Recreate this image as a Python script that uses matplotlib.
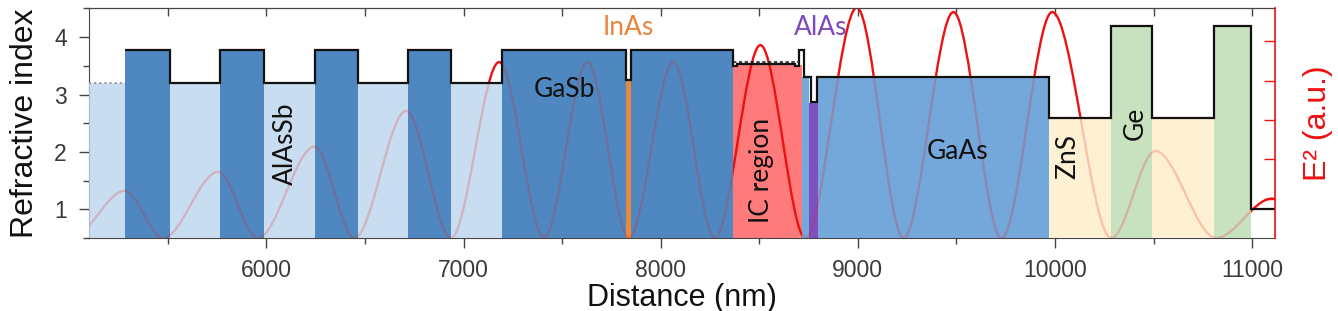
# Törésmutató-profil és E² térerősség a rétegszerkezetben.

import matplotlib
matplotlib.use('Agg')
import matplotlib.pyplot as plt
from matplotlib.path import Path
from matplotlib.patches import PathPatch
from matplotlib.ticker import MultipleLocator

# rétegek (kitöltés)
layer_start = [5100, 5282, 5510, 5763, 5988, 6244, 6464, 6717, 6934, 7195, 7825, 7847,
               8366, 8717, 8750, 8800, 9970, 10286, 10492, 10805]
layer_end = [5282, 5510, 5763, 5988, 6244, 6464, 6717, 6934, 7195, 7825, 7847, 8366,
             8717, 8750, 8800, 9970, 10286, 10492, 10805, 10995]
layer_n = [3.2, 3.78, 3.2, 3.78, 3.2, 3.78, 3.2, 3.78, 3.2, 3.78, 3.25, 3.78,
           3.52, 3.3, 2.85, 3.3, 2.6, 4.19, 2.6, 4.19]
layer_mat = ['AlAsSb', 'GaSb', 'AlAsSb', 'GaSb', 'AlAsSb', 'GaSb', 'AlAsSb', 'GaSb',
             'AlAsSb', 'GaSb', 'InAs', 'GaSb', 'IC', 'GaAs', 'AlAs', 'GaAs',
             'ZnS', 'Ge', 'ZnS', 'Ge']

# törésmutató lépcsős profil
profile_edges = [5282, 5510, 5763, 5988, 6244, 6464, 6717, 6934, 7195, 7825, 7847, 8366,
                 8385, 8680, 8700, 8725, 8762, 8793, 9970, 10286, 10492, 10805, 10995, 11116]
profile_n = [3.78, 3.2, 3.78, 3.2, 3.78, 3.2, 3.78, 3.2, 3.78, 3.25, 3.78, 3.49,
             3.53, 3.49, 3.78, 3.3, 2.87, 3.3, 2.6, 4.19, 2.6, 4.19, 1.0]

# E² lebenyek: nullhelyek, csúcsok helye és magassága
field_zeros = [5010, 5476, 5957, 6447, 6936, 7409, 7839, 8275, 8734, 9232, 9729,
               10286, 10818, 11400]
peak_x = [5282, 5755, 6244, 6709, 7181, 7628, 8064, 8506, 8995, 9485, 9986, 10509, 11100]
peak_h = [1.2, 1.68, 2.32, 3.23, 4.47, 4.47, 4.47, 4.9, 5.85, 5.74, 5.74, 2.21, 1.0]

# feliratok
label_text = ['AlAsSb', 'GaSb', 'InAs', 'AlAs', 'IC region', 'GaAs', 'ZnS', 'Ge']
label_x = [6097, 7510, 7834, 8809, 8513, 9505, 10067, 10405]
label_y = [2.15, 3.08, 4.17, 4.17, 1.68, 2.0, 1.92, 2.5]
label_rot = [90, 0, 0, 0, 90, 0, 90, 90]
label_color = ['#111111', '#111111', '#e8853a', '#7d48c0', '#111111', '#111111',
               '#111111', '#111111']

colors = {
    'AlAsSb': '#c9ddf0',
    'GaSb': '#4f88c1',
    'InAs': '#e8893c',
    'IC': '#ff7b7b',
    'GaAs': '#74a7da',
    'AlAs': '#8050c0',
    'ZnS': '#fdf0d3',
    'Ge': '#c8e1bf',
}

plt.rcParams['font.family'] = ['Liberation Sans', 'DejaVu Sans']

fig = plt.figure(figsize=(13.38, 3.11), dpi=100)
ax = fig.add_axes([0.0665, 0.2347, 0.8864, 0.738])
ax2 = ax.twinx()

ax.set_xlim(5100, 11116)
ax.set_ylim(0.5, 4.5)
ax2.set_ylim(0, 5.83)

widths = [e - s for s, e in zip(layer_start, layer_end)]
fill_colors = [colors[m] for m in layer_mat]

# tömör kitöltés alul
ax.bar(layer_start, layer_n, width=widths, align='edge', color=fill_colors,
       edgecolor='none', zorder=1)

# E² görbe (Bézier lebenyek), ax2 skálájában
verts = []
codes = []
for z0, p, h, z1 in zip(field_zeros[:-1], peak_x, peak_h, field_zeros[1:]):
    verts += [(z0, 0), (z0 + (p - z0) / 3, 0), (z0 + 2 * (p - z0) / 3, h), (p, h),
              (p + (z1 - p) / 3, h), (p + 2 * (z1 - p) / 3, 0), (z1, 0)]
    codes += [Path.MOVETO] + [Path.CURVE4] * 6
field = PathPatch(Path(verts, codes), facecolor='none', edgecolor='#ee1111',
                  lw=1.7, transform=ax2.transData, zorder=2)
ax.add_patch(field)

# áttetsző réteg a görbe fölött (IC régió kivételével)
over = [i for i, m in enumerate(layer_mat) if m != 'IC']
ax.bar([layer_start[i] for i in over], [layer_n[i] for i in over],
       width=[widths[i] for i in over], align='edge',
       color=[fill_colors[i] for i in over], alpha=0.8, edgecolor='none', zorder=3)

# törésmutató profil
ax.stairs(profile_n, profile_edges, baseline=None, color='#111111', lw=1.6, zorder=4)
ax.plot([5100, 5282], [3.2, 3.2], ls=':', color='#999999', lw=1.4, zorder=4)
ax.plot([8366, 8700], [3.56, 3.56], ls='--', color='#222222', lw=1.2, dashes=(2, 1.5), zorder=4)

for t, x, y, r, c in zip(label_text, label_x, label_y, label_rot, label_color):
    ax.text(x, y, t, rotation=r, color=c, ha='center', va='center', fontsize=19,
            family=['Lato', 'DejaVu Sans'], zorder=5)

# tengelyek
ax.xaxis.set_major_locator(MultipleLocator(1000))
ax.xaxis.set_minor_locator(MultipleLocator(500))
ax.yaxis.set_major_locator(MultipleLocator(1))
ax.yaxis.set_minor_locator(MultipleLocator(0.5))
ax.set_yticks([1, 2, 3, 4])
ax.tick_params(axis='both', which='major', direction='out', length=7, width=1,
               color='#444444', labelsize=16.5, labelcolor='#3a3a3a')
ax.tick_params(axis='x', which='major', pad=8)
ax.tick_params(axis='y', which='major', pad=9)
ax.tick_params(axis='both', which='minor', direction='out', length=4, width=1, color='#444444')
for s in ['left', 'bottom', 'top']:
    ax.spines[s].set_color('#444444')
ax.spines['right'].set_visible(False)

top = ax.secondary_xaxis('top')
top.xaxis.set_major_locator(MultipleLocator(500))
top.tick_params(axis='x', direction='in', length=6, width=1, color='#444444', labeltop=False)
top.spines['top'].set_color('#444444')

for s in ['left', 'bottom', 'top']:
    ax2.spines[s].set_visible(False)
ax2.spines['right'].set_color('#ee1111')
ax2.spines['right'].set_linewidth(1.2)
ax2.set_yticks([1, 2, 3, 4, 5])
ax2.tick_params(axis='y', direction='in', length=8, width=1, color='#ee1111', labelright=False)

ax.set_xlabel('Distance (nm)', fontsize=22, color='#111111', labelpad=1)
ax.set_ylabel('Refractive index', fontsize=23, color='#111111', labelpad=10)
ax2.set_ylabel('E² (a.u.)', fontsize=23, color='#ee1111', labelpad=20)

fig.savefig('out.png', dpi=100)
